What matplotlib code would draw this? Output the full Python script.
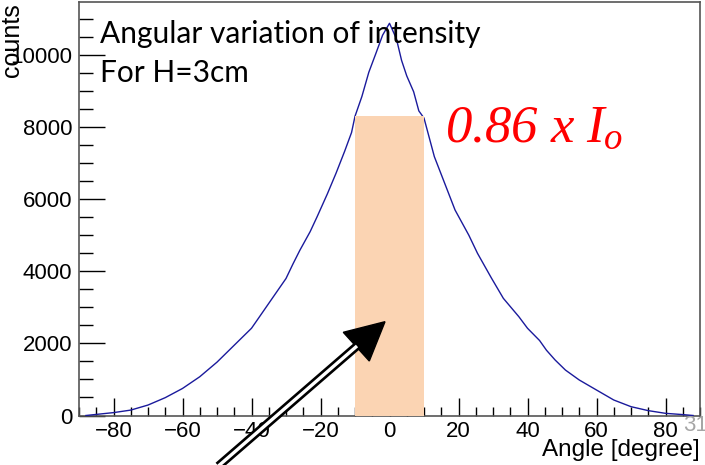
import matplotlib
matplotlib.use("Agg")
import matplotlib.pyplot as plt
from matplotlib.lines import Line2D
from matplotlib.patches import Polygon
from matplotlib.ticker import MultipleLocator

# values
angle = [-88, -85, -80, -75, -70, -65, -60, -55, -50, -45, -40, -38, -35, -30,
         -28, -26, -23, -21, -18, -15.5, -13, -11, -10, -8, -6, -4, -2, 0,
         2, 3.5, 5, 7, 8.5, 10, 13, 16, 19, 23, 25.5, 29.5, 33, 37.5, 40,
         43.5, 45.5, 48, 51, 55, 60, 65, 70, 75, 80, 85, 88]
counts = [0, 30, 80, 150, 290, 495, 750, 1075, 1480, 1950, 2420, 2695, 3110, 3800,
          4200, 4580, 5100, 5510, 6150, 6720, 7330, 7850, 8300, 8850, 9520, 10030, 10550, 10880,
          10450, 9850, 9420, 8980, 8450, 8250, 7180, 6440, 5700, 5000, 4500, 3820, 3250, 2740, 2420,
          2080, 1810, 1540, 1260, 985, 707, 430, 245, 135, 60, 25, 0]

band_lo, band_hi = -10, 10
band_height = 8300

W, H = 705, 465
plt.rcParams['font.family'] = ['Liberation Sans', 'DejaVu Sans']
plt.rcParams['mathtext.fontset'] = 'custom'
plt.rcParams['mathtext.it'] = 'Liberation Serif:italic'
plt.rcParams['mathtext.rm'] = 'Liberation Serif:italic'

fig = plt.figure(figsize=(W / 100, H / 100), dpi=100)
ax = fig.add_axes([79 / W, 1 - 415.5 / H, 621 / W, 413.5 / H])

def px(x, y):
    return x / W, 1 - y / H

ax.plot(angle, counts, color='#1a1a9c', lw=1.0, zorder=3)
ax.fill_between([band_lo, band_hi], 0, band_height, color='#fbd4b3', lw=0, zorder=4)

ax.set_xlim(-90, 90)
ax.set_ylim(0, 11470)
ax.xaxis.set_major_locator(MultipleLocator(20))
ax.xaxis.set_minor_locator(MultipleLocator(5))
ax.yaxis.set_major_locator(MultipleLocator(2000))
ax.yaxis.set_minor_locator(MultipleLocator(500))
ax.tick_params(axis='both', which='both', direction='in', colors='black')
ax.tick_params(axis='both', which='major', labelsize=16)
ax.tick_params(axis='x', which='major', length=13, width=1, pad=4)
ax.tick_params(axis='x', which='minor', length=6.5, width=1)
ax.tick_params(axis='y', which='major', length=19, width=1, pad=5)
ax.tick_params(axis='y', which='minor', length=10, width=1)
for s in ax.spines.values():
    s.set_color('#555555')
    s.set_linewidth(1.2)

fig.text(*px(700, 450), 'Angle [degree]', ha='right', va='center', fontsize=17.5)
fig.text(*px(11.5, 3), 'counts', rotation=90, ha='center', va='top', fontsize=18)

fig.text(*px(100, 42.7), 'Angular variation of intensity', ha='left', va='baseline',
         fontsize=21.5, family='Lato', zorder=6)
fig.text(*px(100, 81.7), 'For H=3cm', ha='left', va='baseline',
         fontsize=21.5, family='Lato', zorder=6)
fig.text(*px(445, 141.7), r'$0.86\ x\ I_o$', ha='left', va='baseline',
         fontsize=38, color='#ff0000')
fig.text(*px(683, 425), '31', ha='left', va='center', fontsize=16, color='#a6a6a6')

# double-line arrow pointing into the band
shaft = [px(208, 475), px(357, 346)]
xs, ys = zip(*shaft)
fig.add_artist(Line2D(xs, ys, color='black', lw=6.2, solid_capstyle='butt'))
fig.add_artist(Line2D(xs, ys, color='white', lw=2.4, solid_capstyle='butt'))
fig.add_artist(Polygon([px(385, 321.7), px(343.3, 332.3), px(369.3, 361)],
                       closed=True, color='black'))

fig.savefig('out.png', dpi=100)
